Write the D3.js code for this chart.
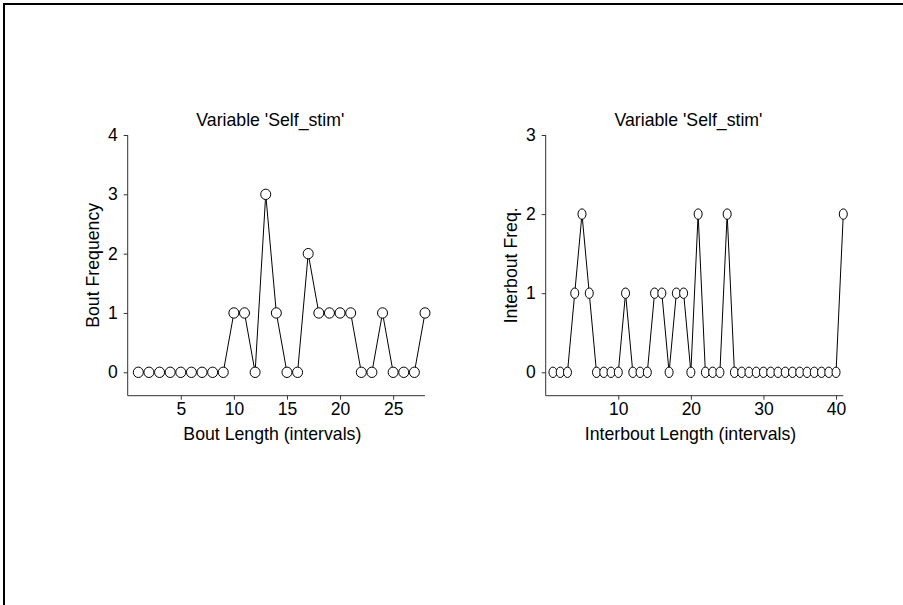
<!DOCTYPE html>
<html>
<head>
    <title>Self_stim bouts</title>
    <style>
        body {
            background: #ffffff;
            margin: 0;
            padding: 0;
            overflow: hidden;
        }
        svg {
            display: block;
            font-family: "Liberation Sans", Arial, sans-serif;
        }
        .axis text {
            font-size: 17.5px;
            fill: #000000;
        }
        .axis line, .axis-line {
            stroke: #333333;
            stroke-width: 1;
        }
        .series {
            fill: none;
            stroke: #000000;
            stroke-width: 1;
        }
        .marker {
            fill: #ffffff;
            stroke: #000000;
            stroke-width: 1;
        }
        .label {
            font-size: 17.7px;
            fill: #000000;
        }
    </style>
</head>
<body>
    <svg id="chart" width="903" height="605"></svg>

    <script src="https://d3js.org/d3.v7.min.js"></script>
    <script>
        // Left panel: bout lengths 1..28
        const boutLengths = d3.range(1, 29);
        const boutFreq = [0, 0, 0, 0, 0, 0, 0, 0, 0, 1, 1, 0, 3, 1, 0, 0, 2, 1, 1, 1, 1, 0, 0, 1, 0, 0, 0, 1];
        const boutXTicks = [5, 10, 15, 20, 25];
        const boutYTicks = [0, 1, 2, 3, 4];

        // Right panel: interbout lengths 1..41
        const interLengths = d3.range(1, 42);
        const interFreq = [0, 0, 0, 1, 2, 1, 0, 0, 0, 0, 1, 0, 0, 0, 1, 1, 0, 1, 1, 0, 2, 0, 0, 0, 2,
                           0, 0, 0, 0, 0, 0, 0, 0, 0, 0, 0, 0, 0, 0, 0, 2];
        const interXTicks = [10, 20, 30, 40];
        const interYTicks = [0, 1, 2, 3];

        const titleText = "Variable 'Self_stim'";

        const svg = d3.select('#chart');

        // outer frame (runs off the right and bottom of the page)
        svg.append('rect')
            .attr('x', 4).attr('y', 4)
            .attr('width', 1200).attr('height', 1200)
            .attr('fill', 'none')
            .attr('stroke', '#000')
            .attr('stroke-width', 2);

        function drawPanel(opts) {
            const top = 135, zeroY = 372.3, bottom = 395.7;

            const x = d3.scaleLinear()
                .domain([0, opts.xs.length])
                .range([opts.left, opts.right]);
            const y = d3.scaleLinear()
                .domain([0, d3.max(opts.yTicks)])
                .range([zeroY, top]);

            const g = svg.append('g');

            // x axis
            const xAxis = g.append('g')
                .attr('class', 'axis')
                .attr('transform', `translate(0, ${bottom})`)
                .call(d3.axisBottom(x).tickValues(opts.xTicks).tickFormat(d3.format('d'))
                    .tickSize(4).tickPadding(3));
            xAxis.select('.domain').remove();

            // y axis
            const yAxis = g.append('g')
                .attr('class', 'axis')
                .attr('transform', `translate(${opts.left}, 0)`)
                .call(d3.axisLeft(y).tickValues(opts.yTicks).tickFormat(d3.format('d'))
                    .tickSize(4).tickPadding(6));
            yAxis.select('.domain').remove();

            g.append('line').attr('class', 'axis-line')
                .attr('x1', opts.left).attr('x2', opts.right)
                .attr('y1', bottom).attr('y2', bottom);
            g.append('line').attr('class', 'axis-line')
                .attr('x1', opts.left).attr('x2', opts.left)
                .attr('y1', top).attr('y2', bottom);

            const pts = opts.xs.map((d, i) => [d, opts.ys[i]]);

            g.append('path')
                .attr('class', 'series')
                .attr('d', d3.line().x(d => x(d[0])).y(d => y(d[1]))(pts));

            g.selectAll('ellipse.marker')
                .data(pts)
                .enter().append('ellipse')
                .attr('class', 'marker')
                .attr('cx', d => x(d[0]))
                .attr('cy', d => y(d[1]))
                .attr('rx', opts.rx)
                .attr('ry', 5.2);

            // title
            g.append('text')
                .attr('class', 'label')
                .attr('x', (opts.left + opts.right) / 2 - 6)
                .attr('y', 126)
                .attr('text-anchor', 'middle')
                .text(titleText);

            // x label
            g.append('text')
                .attr('class', 'label')
                .attr('x', (opts.left + opts.right) / 2 - 4)
                .attr('y', 440)
                .attr('text-anchor', 'middle')
                .text(opts.xLabel);

            // y label
            g.append('text')
                .attr('class', 'label')
                .attr('transform', `translate(${opts.left - 29}, ${(top + bottom) / 2}) rotate(-90)`)
                .attr('text-anchor', 'middle')
                .text(opts.yLabel);
        }

        drawPanel({
            xs: boutLengths, ys: boutFreq,
            xTicks: boutXTicks, yTicks: boutYTicks,
            left: 127.7, right: 425, rx: 5,
            xLabel: 'Bout Length (intervals)',
            yLabel: 'Bout Frequency'
        });

        drawPanel({
            xs: interLengths, ys: interFreq,
            xTicks: interXTicks, yTicks: interYTicks,
            left: 545.7, right: 843.3, rx: 4,
            xLabel: 'Interbout Length (intervals)',
            yLabel: 'Interbout Freq.'
        });
    </script>
</body>
</html>
